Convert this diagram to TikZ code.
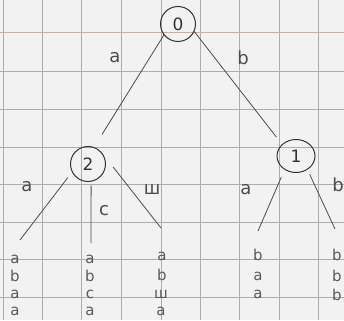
\documentclass[tikz,border=0pt]{standalone}
\usepackage{fontspec}
\setmainfont{DejaVu Sans}
\usetikzlibrary{shapes.geometric}
\begin{document}
\begin{tikzpicture}[x=1pt,y=-1pt,
  pen/.style={draw=black!70,line width=0.8pt},
  state/.style={circle,draw=black!80,line width=1pt,minimum size=35pt,inner sep=0pt,text=black!80,font=\fontsize{17}{18}\selectfont},
  lbl/.style={text=black!70,inner sep=1pt,font=\fontsize{18}{19}\selectfont},
  sym/.style={text=black!65,inner sep=0pt,font=\fontsize{15}{16}\selectfont},
  gridline/.style={draw=black!32,line width=0.8pt}]
\useasboundingbox (0,0) rectangle (344,320);
\fill[black!5] (0,0) rectangle (344,320);
% graph paper
\foreach \gx in {3,42,81,121,161,200,239,279,318} \draw[gridline] (\gx,0) -- (\gx,320);
\foreach \gy in {71,109,147,184,222,259,297} \draw[gridline] (0,\gy) -- (344,\gy);
\draw[draw=orange!30!black!35,line width=0.8pt] (0,32) -- (344,32);
% states
\node[state] (n0) at (178,24) {0};
\node[state] (n2) at (88,164) {2};
\node[state,ellipse,minimum width=38pt,minimum height=33pt] (n1) at (296,156) {1};
% free ends
\coordinate (l1) at (20,240);
\coordinate (l2) at (91,243);
\coordinate (l3) at (161,228);
\coordinate (l4) at (258,231);
\coordinate (l5) at (335,229);
% connectors
\draw[pen,shorten >=15pt] (n0.218) -- (n2.70);
\draw[pen,shorten >=9pt] (n0.335) -- (n1.140);
\draw[pen,shorten <=7pt] (n2.207) -- (l1);
\draw[pen,shorten <=4pt] (n2.280) -- (l2);
\draw[pen,shorten <=16pt] (n2.32) -- (l3);
\draw[pen,shorten <=8pt] (n1.230) -- (l4);
\draw[pen,shorten <=5pt] (n1.310) -- (l5);
% edge labels
\node[lbl] (e02) at (115,58) {a};
\node[lbl] (e01) at (243,58) {b};
\node[lbl] (e2a) at (27,187) {a};
\node[lbl] (e2c) at (104,211) {c};
\node[lbl] (e2w) at (152,190) {ш};
\node[lbl] (e1a) at (246,190) {a};
\node[lbl] (e1b) at (338,185) {b};
% leaf strings
\node[sym] (s11) at (15,259) {a};
\node[sym] (s12) at (15,276) {b};
\node[sym] (s13) at (15,294) {a};
\node[sym] (s14) at (15,311) {a};
\node[sym] (s21) at (90,259) {a};
\node[sym] (s22) at (90,276) {b};
\node[sym] (s23) at (90,294) {c};
\node[sym] (s24) at (90,311) {a};
\node[sym] (s31) at (162,256) {a};
\node[sym] (s32) at (162,275) {b};
\node[sym] (s33) at (161,294) {ш};
\node[sym] (s34) at (161,311) {a};
\node[sym] (s41) at (258,255) {b};
\node[sym] (s42) at (258,276) {a};
\node[sym] (s43) at (258,294) {a};
\node[sym] (s51) at (337,255) {b};
\node[sym] (s52) at (337,276) {b};
\node[sym] (s53) at (337,295) {b};
\end{tikzpicture}
\end{document}
